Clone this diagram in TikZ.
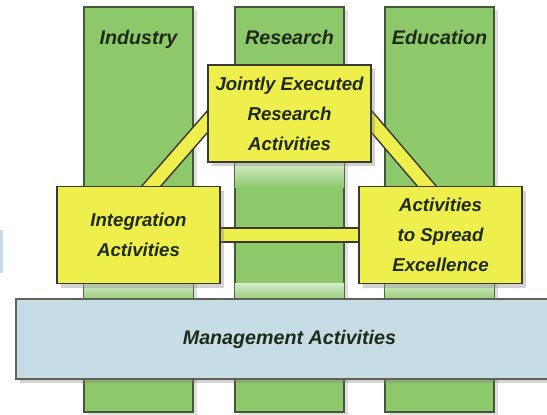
\documentclass[tikz,border=0pt]{standalone}
\usepackage{fontspec}
\setmainfont{Liberation Sans}
\usetikzlibrary{calc,positioning,shadows}

\definecolor{pillargreen}{HTML}{8DC86B}
\definecolor{pillaredge}{HTML}{44583A}
\definecolor{boxyellow}{HTML}{EEEE4C}
\definecolor{mgmtblue}{HTML}{C6DDE5}
\definecolor{edgegray}{HTML}{3A3A30}
\definecolor{inkdark}{HTML}{1F2A18}

\tikzset{
  pillar/.style={draw=pillaredge, line width=0.8pt, fill=pillargreen,
    minimum width=2.18cm, minimum height=8.1cm, inner sep=0pt,
    drop shadow={shadow xshift=2pt, shadow yshift=-1.5pt, opacity=0.25}},
  pillartext/.style={font=\fontsize{11.2}{13}\selectfont\bfseries\itshape, text=inkdark},
  glow/.style={top color=pillargreen!35!white, bottom color=pillargreen},
  actbox/.style={draw=edgegray, line width=0.8pt, fill=boxyellow,
    minimum width=3.26cm, minimum height=1.94cm, inner sep=0pt,
    align=center, font=\fontsize{10.6}{17}\selectfont\bfseries\itshape, text=inkdark,
    drop shadow={shadow xshift=2.5pt, shadow yshift=-2.5pt, opacity=0.35}},
  mgmtbox/.style={draw=edgegray!80, line width=0.8pt, fill=mgmtblue,
    minimum width=10.94cm, minimum height=1.6cm, inner sep=0pt,
    drop shadow={shadow xshift=2.5pt, shadow yshift=-2.5pt, opacity=0.35}},
  bandedge/.style={draw=edgegray, line width=9pt,
    shorten <=-14pt, shorten >=-14pt},
  bandfill/.style={draw=boxyellow, line width=7.2pt,
    shorten <=-16pt, shorten >=-16pt}
}

\begin{document}
\begin{tikzpicture}[x=0.02cm, y=-0.02cm]

\clip (0,0) rectangle (547,414);
\fill[white] (0,0) rectangle (547,414);

% left-over strip at the edge
\fill[mgmtblue] (0,230) rectangle (3,273);

% the three pillars
\node[pillar] (ind) at (138.5,209.5) {};
\node[pillar] (res) at (289.5,209.5) {};
\node[pillar] (edu) at (439.5,209.5) {};

% lighter glow below the boxes
\shade[glow] ($(res.west)+(0.6,-47)$) rectangle ($(res.east)+(-0.6,-22)$);
\shade[glow] ($(ind.west)+(0.6,73.5)$) rectangle ($(ind.east)+(-0.6,92)$);
\shade[glow] ($(edu.west)+(0.6,73.5)$) rectangle ($(edu.east)+(-0.6,92)$);
\shade[glow] ($(res.west)+(0.6,73.5)$) rectangle ($(res.east)+(-0.6,92)$);

\node[pillartext, anchor=base] (indlab) at ($(ind.north)+(0,38)$) {Industry};
\node[pillartext, anchor=base] (reslab) at ($(res.north)+(0,38)$) {Research};
\node[pillartext, anchor=base] (edulab) at ($(edu.north)+(0,38)$) {Education};

% positions of the activity boxes (bands go under them)
\coordinate (jerpos) at (289.5,113.5);
\coordinate (integpos) at (138.5,235);
\coordinate (spreadpos) at (440.5,235);

\coordinate (bl1) at ($(jerpos)+(-81.5,7.5)$);
\coordinate (bl2) at ($(integpos)+(12,-48)$);
\coordinate (br1) at ($(jerpos)+(81.5,7.5)$);
\coordinate (br2) at ($(spreadpos)+(-13,-48)$);

\draw[bandedge] (bl1) -- (bl2);
\draw[bandedge] (br1) -- (br2);
\draw[bandedge] (integpos) -- (spreadpos);
\draw[bandfill] (bl1) -- (bl2);
\draw[bandfill] (br1) -- (br2);
\draw[bandfill] (integpos) -- (spreadpos);

\node[actbox] (jer) at (jerpos) {Jointly Executed\\Research\\Activities};
\node[actbox] (integ) at (integpos) {Integration\\Activities};
\node[actbox] (spread) at (spreadpos) {Activities\\to Spread\\Excellence};

\node[mgmtbox] (mgmt) at (289.5,339) {};
\node[pillartext] (mgmtlab) at (mgmt.center) {Management Activities};

\end{tikzpicture}
\end{document}
